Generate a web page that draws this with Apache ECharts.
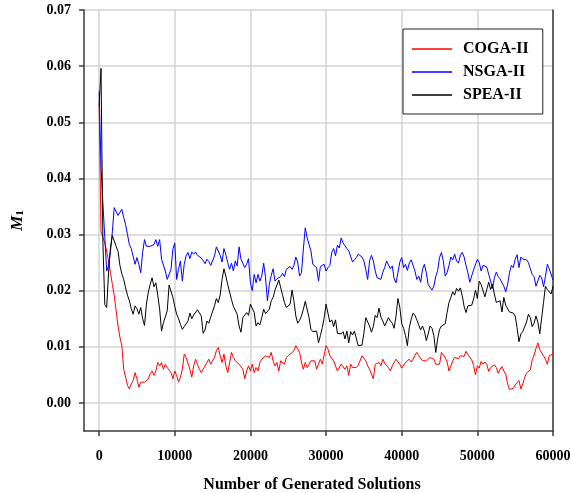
<!DOCTYPE html>
<html><head><meta charset="utf-8">
<script src="https://cdn.jsdelivr.net/npm/echarts@6/dist/echarts.min.js"></script>
<style>html,body{margin:0;padding:0;background:#fff}#c{width:571px;height:493px}</style>
</head><body><div id="c"></div>
<script>
// Sampling grid: number of generated solutions, every 250
const STEP = 250;
const xs = [];
for (let x = 0; x <= 60000; x += STEP) xs.push(x);

const xTicks = [0, 10000, 20000, 30000, 40000, 50000, 60000];
const yTicks = [0, 0.01, 0.02, 0.03, 0.04, 0.05, 0.06, 0.07];
const names = ['COGA-II', 'NSGA-II', 'SPEA-II'];

// M1 values, in units of 1e-3
const coga = [53.1,30.5,29.5,28.5,27.0,25.3,23.2,21.1,19.1,16.4,13.7,11.7,10.2,6.0,4.6,3.1,2.5,3.4,4.0,5.4,4.3,2.8,3.7,4.0,3.7,4.0,4.3,5.2,5.7,4.9,5.7,7.2,6.6,7.2,6.0,6.9,6.3,6.6,5.4,4.3,5.7,4.9,3.7,4.6,6.0,8.7,8.1,
7.8,6.0,4.6,6.6,7.8,6.9,6.0,5.4,6.0,6.6,7.2,7.8,6.9,6.9,8.1,9.3,9.9,8.4,7.2,8.7,6.6,5.4,7.2,9.0,8.1,7.5,7.8,6.9,6.6,6.0,4.3,5.7,6.6,5.7,6.9,5.4,6.3,5.7,7.2,7.8,8.1,8.4,8.7,8.1,9.0,7.5,6.6,7.2,5.7,
7.5,7.2,6.9,8.1,7.8,8.7,8.4,9.3,10.2,10.3,9.0,7.2,6.0,7.2,6.3,6.0,7.5,7.5,7.5,6.0,5.7,7.8,6.9,7.2,10.2,9.6,8.4,8.7,7.5,7.5,5.7,6.0,6.9,6.9,6.0,6.6,4.9,6.9,6.3,6.6,6.3,6.7,6.9,8.4,8.7,7.5,6.6,6.0,
5.7,4.3,6.9,6.6,7.2,6.6,7.8,7.1,7.3,6.3,5.7,6.6,6.3,7.8,7.8,6.9,6.2,6.3,7.2,7.5,7.8,7.3,7.8,8.5,9.0,8.4,8.7,7.5,7.3,7.5,7.5,8.1,8.4,7.8,6.9,7.2,6.9,9.0,9.0,8.1,7.3,5.7,5.4,7.5,8.1,7.8,7.9,8.4,
8.7,8.3,9.2,8.6,8.3,7.7,6.7,5.0,6.6,6.2,7.4,6.9,7.3,6.9,5.6,6.3,6.2,6.8,6.3,5.3,6.0,6.5,5.7,5.1,3.4,2.4,2.2,2.6,3.2,3.2,4.0,2.5,3.4,4.5,5.3,5.3,5.9,7.7,8.5,9.7,10.7,9.5,9.3,8.4,7.8,6.9,8.4,8.7,8.7];

const nsga = [55.5,42.0,35.5,29.5,23.5,24.5,27.0,30.5,34.8,34.8,33.4,33.6,34.5,33.0,31.8,30.0,28.2,27.5,27.6,24.7,25.9,24.7,23.2,26.8,29.1,27.9,28.2,27.9,27.6,28.2,29.1,27.9,29.1,25.6,25.3,23.5,22.0,22.0,23.8,27.4,28.5,22.0,23.8,25.3,21.7,24.7,26.2,
26.8,25.7,26.9,26.5,26.9,26.3,26.2,25.8,25.4,24.8,25.6,25.2,24.5,24.4,26.2,27.8,28.1,26.3,25.1,27.5,26.4,25.0,23.8,24.9,23.5,25.3,24.4,27.8,25.6,25.6,24.1,24.7,25.7,21.4,20.0,22.9,21.4,22.9,21.7,22.6,24.9,22.3,18.2,21.1,22.7,23.9,21.7,22.1,22.1,
22.5,23.1,22.5,23.8,23.9,24.3,23.8,24.5,26.0,25.1,22.6,23.2,27.4,31.2,29.4,29.7,27.1,24.7,24.7,24.1,21.7,24.3,24.1,24.7,23.5,24.1,24.5,26.8,27.5,26.2,28.1,27.6,29.4,28.5,28.2,27.5,27.1,27.4,25.1,25.5,25.9,26.5,26.6,26.0,25.3,23.8,22.0,25.3,
26.3,25.3,23.5,22.3,22.5,22.0,23.3,24.1,25.3,25.4,23.9,24.4,22.1,21.4,23.2,25.1,25.9,24.1,24.7,23.6,24.9,25.5,25.3,23.5,22.0,22.6,21.5,23.8,24.7,23.2,21.1,21.0,20.1,20.8,22.5,23.6,25.9,26.8,25.3,22.6,23.2,24.5,26.0,25.5,26.5,25.3,24.9,26.3,
26.8,26.0,24.5,23.2,21.5,21.3,23.7,23.9,25.6,25.0,23.5,24.5,24.3,24.2,22.9,21.7,20.4,22.3,23.3,22.5,22.1,21.4,20.8,19.8,21.1,23.2,24.5,24.1,25.6,26.4,24.1,26.0,25.6,25.9,25.5,25.0,23.9,22.9,22.5,20.8,20.8,22.7,22.3,20.7,22.5,24.7,23.9,23.8,21.9];

const spea = [53.0,59.6,28.5,17.5,17.0,23.3,27.7,29.8,30.0,27.9,27.0,24.5,23.0,22.0,20.5,19.2,18.2,16.8,15.8,17.3,16.8,15.8,17.0,15.0,13.8,17.6,19.7,21.1,22.3,20.7,21.4,19.2,16.7,12.8,14.3,14.4,16.4,21.0,20.8,18.8,17.2,15.8,15.0,14.0,13.1,13.6,13.7,
14.6,16.0,15.0,15.7,15.8,16.6,16.7,15.5,12.4,13.0,14.6,14.2,15.3,15.2,17.3,18.6,17.9,19.2,22.0,23.9,22.6,21.1,20.8,18.4,17.2,17.3,15.8,13.7,12.6,15.2,15.5,16.1,15.6,17.6,17.8,16.1,13.7,14.3,13.9,15.2,16.7,15.9,16.1,16.7,18.2,18.8,20.1,19.8,21.9,
21.7,19.2,17.9,17.0,16.7,17.6,20.1,18.2,15.5,14.2,14.7,15.5,16.7,18.1,17.9,15.2,13.1,12.7,12.4,12.8,10.7,12.0,13.4,15.2,17.6,16.0,14.4,14.8,13.6,14.8,12.4,12.4,12.3,12.7,11.4,12.8,10.7,12.7,12.1,12.8,12.8,10.2,10.2,10.3,12.4,15.2,15.2,13.7,
12.6,13.6,15.6,15.2,16.9,15.3,14.6,13.7,14.0,15.2,14.6,14.2,13.3,15.5,18.6,17.0,14.1,13.3,12.0,10.2,13.4,14.9,16.0,15.6,14.8,13.9,13.0,13.7,12.8,11.1,12.3,13.7,13.3,12.0,9.0,11.4,13.1,13.7,14.0,14.1,16.1,17.9,18.8,19.8,19.2,20.4,19.9,20.5,
19.1,17.2,16.1,17.3,17.3,17.4,18.5,20.1,18.6,21.7,21.1,20.8,18.9,20.2,21.5,20.2,21.1,19.4,17.9,18.2,18.2,16.2,18.8,17.4,17.5,16.2,16.2,16.0,15.5,13.4,10.9,12.3,12.7,13.0,14.4,15.8,15.2,13.6,14.2,15.5,14.4,12.3,12.6,17.9,20.8,20.2,20.5,19.4,20.8];

const colors = ['#ff0000', '#0000ff', '#000000'];
const seriesValues = [coga, nsga, spea];
const UNIT = 1e-3;

const F = '"Liberation Serif", "Times New Roman", serif';
const axisColor = '#3a3a3a';
const gridColor = '#d3d3d3';

const chart = echarts.init(document.getElementById('c'), null, {renderer: 'canvas'});
chart.setOption({
  animation: false,
  backgroundColor: '#fff',
  grid: {left: 84, right: 18, top: 10, bottom: 62, outerBoundsMode: 'none', containLabel: false},
  legend: {
    orient: 'vertical', left: 403, top: 29,
    padding: [12, 14, 11, 9], itemGap: 7, itemWidth: 40, itemHeight: 1.5,
    icon: 'rect',
    borderColor: '#222', borderWidth: 1, backgroundColor: '#fff',
    textStyle: {fontFamily: F, fontWeight: 'bold', fontSize: 16, color: '#000', padding: [0, 0, 0, 6], lineHeight: 16},
    data: names
  },
  xAxis: {
    type: 'value', min: -2000, max: 60000,
    name: 'Number of Generated Solutions', nameLocation: 'middle', nameGap: 46,
    nameTextStyle: {fontFamily: F, fontWeight: 'bold', fontSize: 16, color: '#000', padding: [0, 13, 0, 0]},
    axisLine: {onZero: false, lineStyle: {color: axisColor, width: 1.5}},
    axisTick: {customValues: xTicks, length: 5, lineStyle: {color: axisColor, width: 1.5}},
    axisLabel: {customValues: xTicks, fontFamily: F, fontWeight: 'bold', fontSize: 14, color: '#000', margin: 18,
      formatter: v => String(Math.round(v))},
    splitLine: {show: true, lineStyle: {color: gridColor, width: 1.5}}
  },
  yAxis: [{
    type: 'value', min: -0.005, max: 0.07,
    name: '{m|M}{s|1}', nameLocation: 'middle', nameGap: 58, nameRotate: 90,
    nameTextStyle: {rich: {
      m: {fontFamily: F, fontWeight: 'bold', fontStyle: 'italic', fontSize: 17, color: '#000'},
      s: {fontFamily: F, fontWeight: 'bold', fontSize: 11, color: '#000', verticalAlign: 'bottom', padding: [6, 0, 0, 0]}
    }},
    axisLine: {onZero: false, show: true, lineStyle: {color: axisColor, width: 1.5}},
    axisTick: {show: true, customValues: yTicks, length: 5, lineStyle: {color: axisColor, width: 1.5}},
    axisLabel: {customValues: yTicks, fontFamily: F, fontWeight: 'bold', fontSize: 14, color: '#000', margin: 13,
      formatter: v => v.toFixed(2)},
    splitLine: {show: true, lineStyle: {color: gridColor, width: 1.5}}
  }, {
    type: 'value', min: -0.005, max: 0.07, position: 'right',
    axisLine: {onZero: false, show: true, lineStyle: {color: axisColor, width: 1.5}},
    axisTick: {show: false}, axisLabel: {show: false}, splitLine: {show: false}
  }],
  series: seriesValues.map((vals, k) => ({
    name: names[k], type: 'line', yAxisIndex: 0,
    symbol: 'none', showSymbol: false,
    lineStyle: {color: colors[k], width: 1},
    itemStyle: {color: colors[k]},
    data: xs.map((x, i) => [x, vals[i] * UNIT])
  }))
});
</script></body></html>
